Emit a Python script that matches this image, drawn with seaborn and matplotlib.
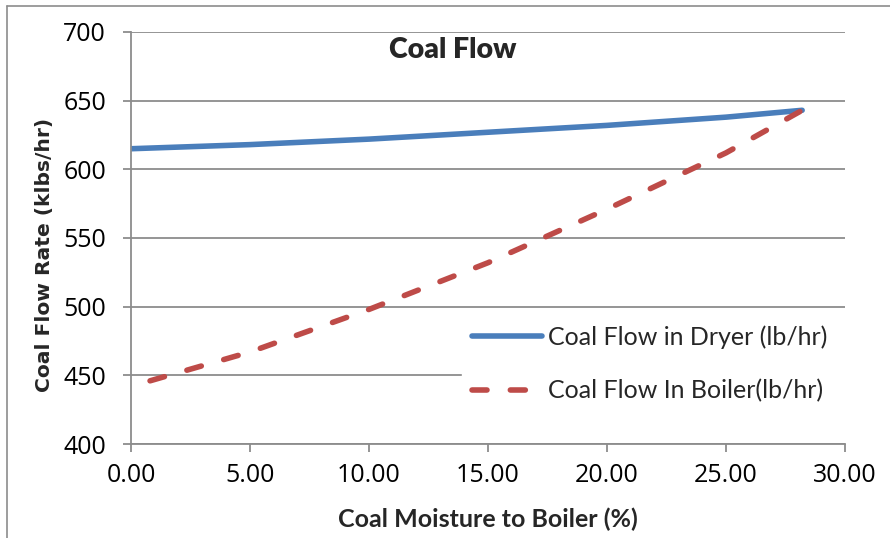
import matplotlib
matplotlib.use("Agg")
import matplotlib.pyplot as plt
import seaborn as sns
import pandas as pd
from matplotlib.lines import Line2D

# Data
dryer_moisture = [0.0, 5.0, 10.0, 15.0, 20.0, 25.0, 28.2]
dryer_flow = [615, 618, 622, 627, 632, 638, 643]
boiler_moisture = [0.8, 5.0, 10.0, 15.0, 20.0, 25.0, 28.2]
boiler_flow = [446, 467, 498, 532, 571, 612, 643]

series_names = ["Coal Flow in Dryer (lb/hr)", "Coal Flow In Boiler(lb/hr)"]
x_ticks = [0, 5, 10, 15, 20, 25, 30]
y_ticks = [400, 450, 500, 550, 600, 650, 700]

df = pd.concat([
    pd.DataFrame({"x": dryer_moisture, "y": dryer_flow, "s": series_names[0]}),
    pd.DataFrame({"x": boiler_moisture, "y": boiler_flow, "s": series_names[1]}),
])

sns.set_theme(style="white")
narrow = ["Liberation Sans Narrow", "Lato", "DejaVu Sans"]
plt.rcParams["font.family"] = ["Open Sans", "DejaVu Sans"]

fig = plt.figure(figsize=(8.9, 5.38), dpi=100)
ax = fig.add_axes([131/890, 1-444/538, (845-131)/890, (444-32)/538])

blue = "#4a7ebb"
red = "#be4b48"
dash_pat = (2.7, 4.2)
sns.lineplot(data=df, x="x", y="y", hue="s", style="s",
             palette={series_names[0]: blue, series_names[1]: red},
             dashes={series_names[0]: "", series_names[1]: dash_pat},
             linewidth=4, ax=ax, legend=False, sort=True)
for ln in ax.lines:
    ln.set_dash_capstyle("round")
    ln.set_solid_capstyle("round")

ax.set_xlim(0, 30)
ax.set_ylim(400, 700)
ax.set_xticks(x_ticks)
ax.set_xticklabels([f"{v:.2f}" for v in x_ticks])
ax.set_yticks(y_ticks)
ax.set_yticklabels([str(v) for v in y_ticks])
ax.yaxis.grid(True, color="#8c8c8c", linewidth=1.3)
ax.xaxis.grid(False)
for s in ["top", "right"]:
    ax.spines[s].set_visible(False)
for s in ["left", "bottom"]:
    ax.spines[s].set_color("#8c8c8c")
    ax.spines[s].set_linewidth(1.3)
ax.tick_params(axis="both", which="both", direction="out", length=6,
               width=1.3, color="#8c8c8c", labelsize=18, labelcolor="black",
               left=True, bottom=True)
ax.tick_params(axis="x", pad=8)
ax.tick_params(axis="y", pad=12)

ax.set_xlabel("Coal Moisture to Boiler (%)", fontsize=18, fontweight="bold",
              family=narrow)
ax.xaxis.set_label_coords(0.5, -0.155)
ax.set_ylabel("Coal Flow Rate (klbs/hr)", fontsize=14.6, fontweight="bold",
              family=["DejaVu Sans"])
ax.yaxis.set_label_coords(-0.108, (444-255)/412)
ax.text(13.5, 687, "Coal Flow", ha="center", va="center", fontsize=20.5,
        fontweight="heavy", family=narrow)

handles = [Line2D([], [], color=blue, lw=4, solid_capstyle="round"),
           Line2D([], [], color=red, lw=4, dashes=dash_pat,
                  dash_capstyle="round")]
leg = ax.legend(handles, series_names, loc="center left",
                bbox_to_anchor=((462-131)/714, (444-364)/412 - 0.15,
                                (845-462)/714, 0.3),
                mode="expand", frameon=True, fancybox=False,
                framealpha=1, edgecolor="white", handlelength=2.8,
                handletextpad=0.25, labelspacing=1.2,
                prop={"family": narrow, "size": 18}, borderpad=0.4,
                borderaxespad=0)

# outer chart border (left and top visible)
fig.add_artist(Line2D([7/890, 7/890], [0, 1-6/538], color="#8c8c8c", lw=1.2))
fig.add_artist(Line2D([7/890, 1], [1-6/538, 1-6/538], color="#8c8c8c", lw=1.2))

fig.savefig("out.png", dpi=100)
